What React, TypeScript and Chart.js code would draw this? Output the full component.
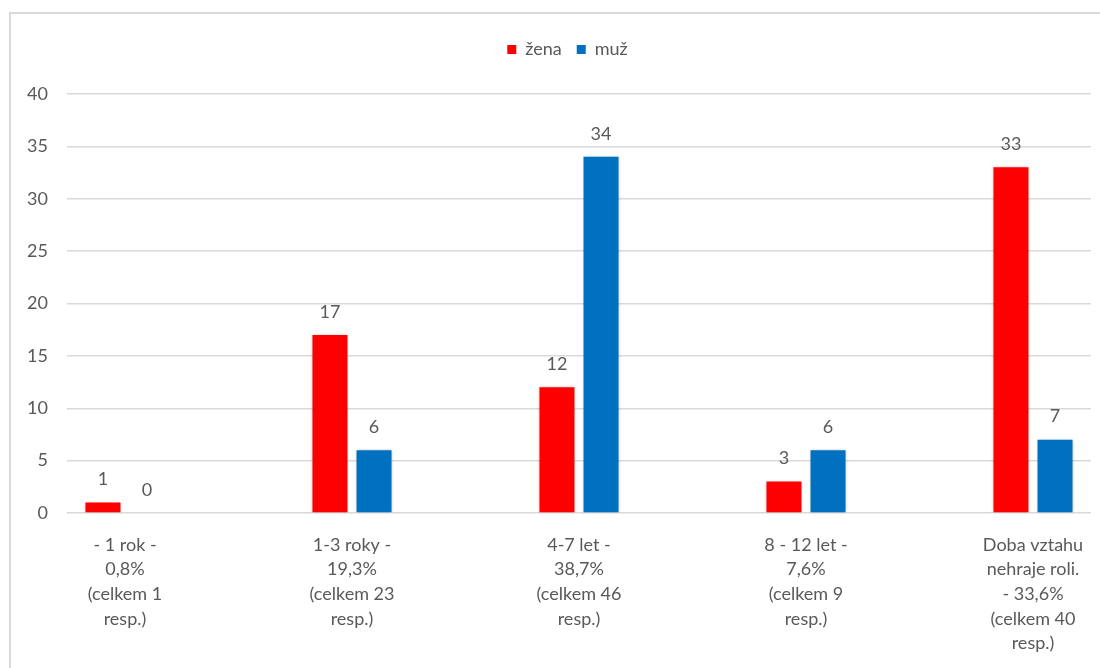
import React, { useEffect, useRef } from "react";
import { Chart, registerables } from "chart.js";

Chart.register(...registerables);

const categories: string[][] = [
  ["- 1 rok -", "0,8%", "(celkem 1", "resp.)"],
  ["1-3 roky -", "19,3%", "(celkem 23", "resp.)"],
  ["4-7 let -", "38,7%", "(celkem 46", "resp.)"],
  ["8 - 12 let -", "7,6%", "(celkem 9", "resp.)"],
  ["Doba vztahu", "nehraje roli.", "- 33,6%", "(celkem 40", "resp.)"],
];
const zena: number[] = [1, 17, 12, 3, 33];
const muz: number[] = [0, 6, 34, 6, 7];
const yTicks: number[] = [0, 5, 10, 15, 20, 25, 30, 35, 40];

const GRAY = "#595959";
const FONT = "Lato, 'Open Sans', sans-serif";
const FS = 18;

const borderPlugin = {
  id: "outerBorder",
  beforeDraw(chart: any) {
    const ctx = chart.ctx;
    ctx.save();
    ctx.fillStyle = "#ffffff";
    ctx.fillRect(0, 0, chart.width, chart.height);
    ctx.strokeStyle = "#d9d9d9";
    ctx.lineWidth = 2;
    ctx.strokeRect(10, 13, 1300, 900);
    ctx.restore();
  },
};

const legendShiftPlugin = {
  id: "legendShift",
  afterLayout(chart: any) {
    const lg = chart.legend;
    if (lg) {
      lg.left += 17;
      lg.right += 17;
    }
  },
};

const shadowPlugin = {
  id: "barShadow",
  beforeDatasetDraw(chart: any) {
    const ctx = chart.ctx;
    ctx.save();
    ctx.shadowColor = "rgba(0,0,0,0.28)";
    ctx.shadowBlur = 3;
    ctx.shadowOffsetX = 0;
    ctx.shadowOffsetY = 0;
  },
  afterDatasetDraw(chart: any) {
    chart.ctx.restore();
  },
};

const valueLabelPlugin = {
  id: "valueLabels",
  afterDatasetsDraw(chart: any) {
    const ctx = chart.ctx;
    ctx.save();
    ctx.font = `${FS}px ${FONT}`;
    ctx.fillStyle = GRAY;
    ctx.textAlign = "center";
    ctx.textBaseline = "middle";
    chart.data.datasets.forEach((ds: any, di: number) => {
      const meta = chart.getDatasetMeta(di);
      meta.data.forEach((el: any, i: number) => {
        const v = ds.data[i].y;
        ctx.fillText(String(v), el.x, el.y - 23);
      });
    });
    ctx.restore();
  },
};

export default function App() {
  const ref = useRef<HTMLCanvasElement | null>(null);

  useEffect(() => {
    if (!ref.current) return;
    const chart = new Chart(ref.current, {
      type: "bar",
      data: {
        datasets: [
          {
            label: "žena",
            data: zena.map((v, i) => ({ x: i, y: v })),
            backgroundColor: "#FF0000",
            borderWidth: 0,
            categoryPercentage: 0.388,
            barPercentage: 0.795,
          },
          {
            label: "muž",
            data: muz.map((v, i) => ({ x: i, y: v })),
            backgroundColor: "#0070C0",
            borderWidth: 0,
            categoryPercentage: 0.388,
            barPercentage: 0.795,
          },
        ],
      } as any,
      options: {
        responsive: false,
        animation: false,
        layout: { padding: { left: 10, right: 9, top: 25.5, bottom: 0 } },
        plugins: {
          legend: {
            position: "top",
            labels: {
              boxWidth: 9,
              boxHeight: 9,
              padding: 15,
              color: GRAY,
              font: { family: FONT, size: FS },
            },
          },
          title: {
            display: true,
            text: "",
            position: "top",
            weight: 500,
            padding: { top: 15.5, bottom: 0 },
            font: { size: 10, lineHeight: 1 },
          } as any,
          tooltip: { enabled: false },
        },
        scales: {
          x: {
            type: "linear",
            position: "bottom",
            min: -0.2555,
            max: 4.2555,
            offset: false,
            grid: { display: false, drawTicks: false },
            border: { display: false },
            afterBuildTicks: (axis: any) => {
              axis.ticks = categories.map((_, i) => ({ value: i }));
            },
            afterFit: (axis: any) => {
              axis.height = 155;
              axis.paddingLeft = 0;
              axis.paddingRight = 0;
            },
            ticks: {
              autoSkip: false,
              maxRotation: 0,
              minRotation: 0,
              padding: 19.5,
              color: GRAY,
              font: { family: FONT, size: FS, lineHeight: 1.37 },
              callback: (v: any) => categories[Math.round(Number(v))] ?? "",
            },
          },
          y: {
            type: "linear",
            min: 0,
            max: 40,
            afterBuildTicks: (axis: any) => {
              axis.ticks = yTicks.map((v) => ({ value: v }));
            },
            afterFit: (axis: any) => {
              axis.width = 57;
              axis.paddingTop = 0;
              axis.paddingBottom = 0;
            },
            grid: { color: "#d9d9d9", lineWidth: 1.5, drawTicks: false },
            border: { display: false },
            ticks: {
              padding: 19,
              color: GRAY,
              font: { family: FONT, size: FS },
            },
          },
        },
      } as any,
      plugins: [borderPlugin, legendShiftPlugin, shadowPlugin, valueLabelPlugin],
    });
    return () => chart.destroy();
  }, []);

  return (
    <canvas
      ref={ref}
      width={1100}
      height={668}
      style={{ position: "absolute", left: 0, top: 0, display: "block" }}
    />
  );
}
